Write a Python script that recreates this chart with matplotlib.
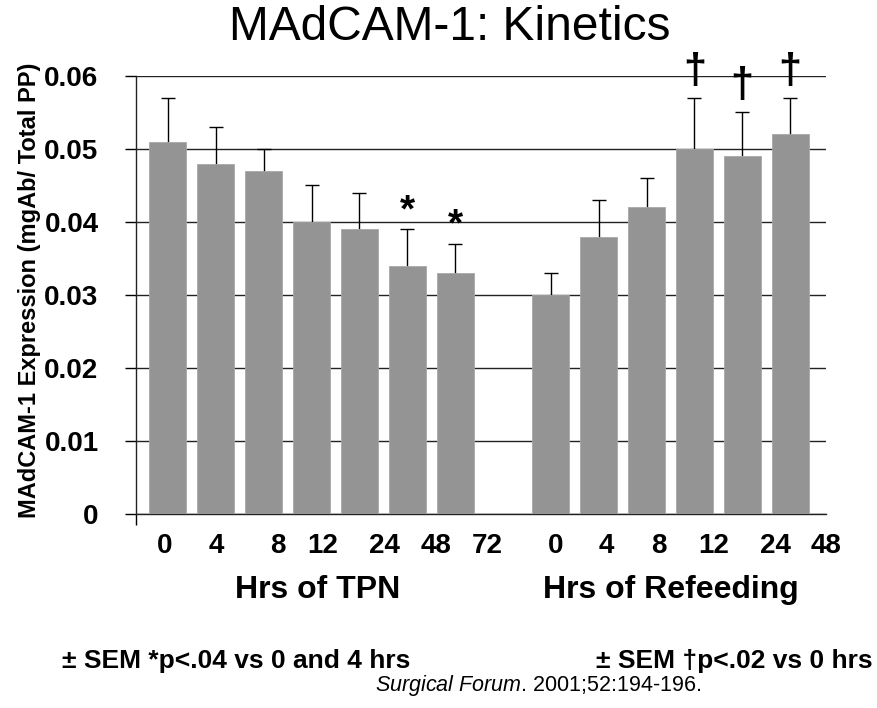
import numpy as np
import matplotlib.pyplot as plt

plt.rcParams['font.family'] = ['Liberation Sans', 'DejaVu Sans']
plt.rcParams['mathtext.fontset'] = 'custom'
plt.rcParams['mathtext.rm'] = 'Liberation Sans'
plt.rcParams['mathtext.it'] = 'Liberation Sans:italic'

# MAdCAM-1 expression (mgAb / total PP), mean and SEM
hours_tpn = ['0', '4', '8', '12', '24', '48', '72']
hours_refeed = ['0', '4', '8', '12', '24', '48']
tpn_mean = [0.051, 0.048, 0.047, 0.040, 0.039, 0.034, 0.033]
tpn_sem = [0.006, 0.005, 0.003, 0.005, 0.005, 0.005, 0.004]
refeed_mean = [0.030, 0.038, 0.042, 0.050, 0.049, 0.052]
refeed_sem = [0.003, 0.005, 0.004, 0.007, 0.006, 0.005]
tpn_signif = [5, 6]          # * p<.04 vs 0 and 4 hrs
refeed_signif = [3, 4, 5]    # dagger p<.02 vs 0 hrs

# tick labels sit a little off the bar centres
tpn_label_pos = [-0.06, 1.02, 2.29, 3.23, 4.52, 5.6, 6.67]
refeed_label_pos = [8.1, 9.17, 10.25, 11.4, 12.69, 13.75]

x_tpn = np.arange(len(tpn_mean))
x_ref = np.arange(len(refeed_mean)) + len(tpn_mean) + 1
x = np.concatenate([x_tpn, x_ref])
mean = np.array(tpn_mean + refeed_mean)
sem = np.array(tpn_sem + refeed_sem)

fig = plt.figure(figsize=(8.77, 7.08), dpi=100)
ax = fig.add_axes([136 / 877, 1 - 514 / 708, 690 / 877, 438 / 708])

ax.errorbar(x, mean, yerr=sem, fmt='none', ecolor='black', elinewidth=1,
            capsize=5, capthick=1, zorder=2)
ax.bar(x, mean, width=0.77, color='#949494', edgecolor='#a8a8a8',
       linewidth=0.6, zorder=3)

ax.set_xlim(-0.667, 13.708)
ax.set_ylim(0, 0.06)
ax.set_yticks(np.arange(0, 0.061, 0.01))
ax.set_yticklabels(['0', '0.01', '0.02', '0.03', '0.04', '0.05', '0.06'],
                   fontsize=20, fontweight='bold')
ax.yaxis.grid(True, color='#222222', linewidth=1)
ax.set_axisbelow(True)
ax.tick_params(axis='y', length=8, width=1, direction='out', pad=19)

ax.set_xticks(tpn_label_pos + refeed_label_pos)
ax.set_xticklabels(hours_tpn + hours_refeed, fontsize=20, fontweight='bold')
ax.tick_params(axis='x', length=0, pad=14)
ax.set_xticks([-0.667], minor=True)
ax.tick_params(axis='x', which='minor', length=8, width=1, direction='out')

for s in ['top', 'right']:
    ax.spines[s].set_visible(False)
for s in ['left', 'bottom']:
    ax.spines[s].set_color('#222222')
    ax.spines[s].set_linewidth(1)

for i in tpn_signif:
    ax.annotate('*', xy=(x_tpn[i], tpn_mean[i] + tpn_sem[i]),
                xytext=(0, 0), textcoords='offset points',
                ha='center', va='bottom', fontsize=28, fontweight='bold')
for i in refeed_signif:
    ax.annotate('\u2020', xy=(x_ref[i], refeed_mean[i] + refeed_sem[i]),
                xytext=(0, 19), textcoords='offset points',
                ha='center', va='center', fontsize=30, fontweight='bold')

fig.text(450 / 877, 1 - 27 / 708, 'MAdCAM-1: Kinetics', fontsize=34.5,
         ha='center', va='center')
fig.text(30 / 877, 1 - 290 / 708, 'MAdCAM-1 Expression (mgAb/ Total PP)',
         rotation=90, fontsize=17, fontweight='bold', ha='center', va='center')

fig.text(318 / 877, 1 - 590 / 708, 'Hrs of TPN', fontsize=23,
         fontweight='bold', ha='center', va='center')
fig.text(671 / 877, 1 - 590 / 708, 'Hrs of Refeeding', fontsize=23,
         fontweight='bold', ha='center', va='center')

fig.text(62 / 877, 1 - 661 / 708, '\u00b1 SEM *p<.04 vs 0 and 4 hrs',
         fontsize=19, fontweight='bold', ha='left', va='center')
fig.text(873 / 877, 1 - 661 / 708, '\u00b1 SEM \u2020p<.02 vs 0 hrs',
         fontsize=19, fontweight='bold', ha='right', va='center')
fig.text(375 / 877, 1 - 685 / 708, r'$\it{Surgical\ Forum}$. 2001;52:194-196.',
         fontsize=15.5, ha='left', va='center')

fig.savefig('out.png', dpi=100)
